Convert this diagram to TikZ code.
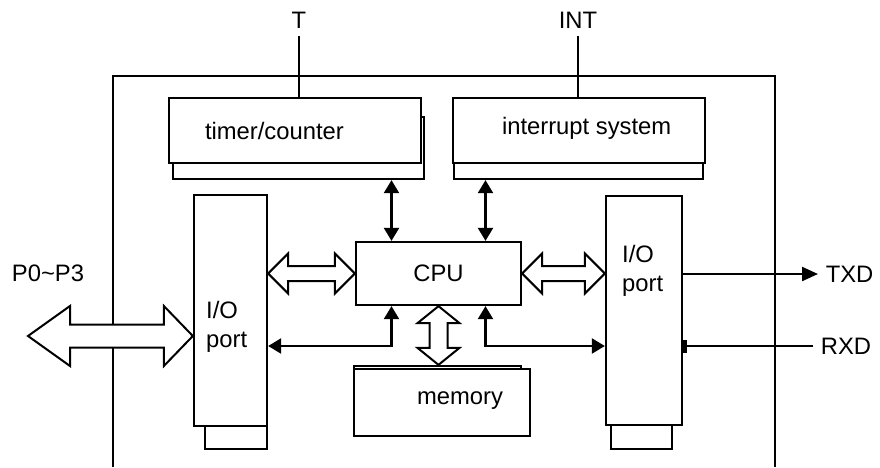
\documentclass[tikz,border=0pt]{standalone}
\usepackage{fontspec}
\setmainfont{Liberation Sans}
\usetikzlibrary{arrows.meta, calc}

% hollow bus arrow, left tip #1, right tip #2, head lengths #3/#4, half widths #5 (head) #6 (shaft)
\newcommand{\hbus}[6]{%
  \draw[bus] (#1) -- ($(#1)+(#3,-#5)$) -- ($(#1)+(#3,-#6)$)
    -- ($(#2)+(-#4,-#6)$) -- ($(#2)+(-#4,-#5)$) -- (#2)
    -- ($(#2)+(-#4,#5)$) -- ($(#2)+(-#4,#6)$)
    -- ($(#1)+(#3,#6)$) -- ($(#1)+(#3,#5)$) -- cycle;}
% same, vertical: top tip #1, bottom tip #2, head length #3, half widths #4 #5
\newcommand{\vbus}[5]{%
  \draw[bus] (#1) -- ($(#1)+(#4,#3)$) -- ($(#1)+(#5,#3)$)
    -- ($(#2)+(#5,-#3)$) -- ($(#2)+(#4,-#3)$) -- (#2)
    -- ($(#2)+(-#4,-#3)$) -- ($(#2)+(-#5,-#3)$)
    -- ($(#1)+(-#5,#3)$) -- ($(#1)+(-#4,#3)$) -- cycle;}

\begin{document}
\begin{tikzpicture}[
    x=0.5pt, y=-0.5pt, line width=1.15pt,
    font=\fontsize{11.9pt}{14.5pt}\selectfont,
    >={Triangle[length=6.5pt,width=7.5pt]},
    unit/.style={rectangle, draw, fill=white, inner sep=0pt},
    txt/.style={inner sep=0pt, anchor=west, align=left},
    link/.style={<->},
    bus/.style={draw, fill=white, line width=1pt, line join=miter}
  ]
  \useasboundingbox (0,0) rectangle (880,467);

  % chip outline
  \draw (113,467) |- (775,76) -- (775,467);

  % blocks
  \node[unit, minimum width=125.5pt, minimum height=31pt] (timerback) at (298.5,148) {};
  \node[unit, minimum width=126pt, minimum height=32.5pt] (timer) at (295,130.5) {};
  \node[unit, minimum width=124.5pt, minimum height=29.5pt] (irqback) at (578.5,149.5) {};
  \node[unit, minimum width=126pt, minimum height=32.5pt] (irq) at (579,130.5) {};
  \node[unit, minimum width=31pt, minimum height=24.5pt] (iolback) at (236,424.5) {};
  \node[unit, minimum width=36.5pt, minimum height=115.5pt] (iol) at (230.5,310.5) {};
  \node[unit, minimum width=30.5pt, minimum height=24.5pt] (iorback) at (641.5,424.5) {};
  \node[unit, minimum width=38pt, minimum height=114.5pt] (ior) at (644,310.5) {};
  \node[unit, minimum width=82.5pt, minimum height=31.5pt] (cpu) at (438.5,273.5) {CPU};
  \node[unit, minimum width=83.5pt, minimum height=32pt] (memback) at (437.5,398) {};
  \node[unit, minimum width=88pt, minimum height=33.5pt] (mem) at (442,402.5) {};

  \node[txt] (timertxt) at ($(timer.west)+(36,0)$) {timer/counter};
  \node[txt] (irqtxt) at ($(irq.west)+(49,-2)$) {interrupt system};
  \node[txt] (ioltxt) at (205,327) {I/O\\port};
  \node[txt] (iortxt) at (621,271) {I/O\\port};
  \node[txt] (memtxt) at ($(mem.west)+(63,-2)$) {memory};

  % outside signals
  \node (tlbl) at (299,20) {T};
  \node (intlbl) at (578,20) {INT};
  \node (plbl) at (48,273) {P0\textasciitilde P3};
  \node[anchor=west] (txd) at (818,274) {TXD};
  \node[anchor=west] (rxd) at (813,346) {RXD};

  \draw (tlbl.south) -- (tlbl.south |- timer.north);
  \draw (intlbl.south) -- (intlbl.south |- irq.north);
  \draw[-{Triangle[length=8pt,width=7pt]}] (ior.east |- txd.west) -- (txd.west);
  \draw[-{Rectangle[length=2pt,width=6.5pt]}] (rxd.west) -- (ior.east |- rxd.west);

  % data buses
  \coordinate (pend) at (28,336);
  \hbus{pend}{iol.west |- pend}{42}{29}{30}{11.5}
  \coordinate (b1l) at (iol.east |- cpu.west);
  \hbus{b1l}{cpu.west}{20}{20}{20}{7.5}
  \coordinate (b2r) at (ior.west |- cpu.east);
  \hbus{cpu.east}{b2r}{20}{20}{20}{7.5}
  \coordinate (b3b) at (cpu.south |- memback.north);
  \vbus{cpu.south}{b3b}{17}{21}{9}

  % control lines
  \coordinate (cpuTL) at ($(cpu.north)+(-47,0)$);
  \coordinate (cpuTR) at ($(cpu.north)+(47,0)$);
  \coordinate (cpuBL) at ($(cpu.south)+(-47,0)$);
  \coordinate (cpuBR) at ($(cpu.south)+(47,0)$);
  \coordinate (lowbus) at (438,346);
  \draw[link] (cpuTL) -- (cpuTL |- timerback.south);
  \draw[link] (cpuTR) -- (cpuTR |- irqback.south);
  \draw[link] (cpuBL) |- (iol.east |- lowbus);
  \draw[link] (cpuBR) |- (ior.west |- lowbus);
\end{tikzpicture}
\end{document}
